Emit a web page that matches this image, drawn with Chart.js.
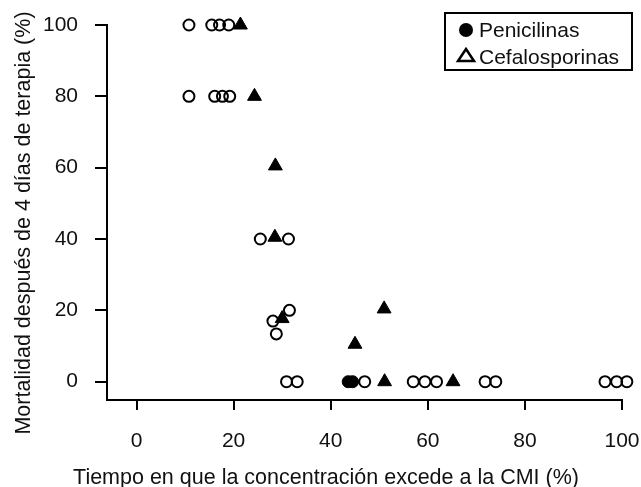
<!DOCTYPE html>
<html>
<head>
<meta charset="utf-8">
<script src="https://cdn.jsdelivr.net/npm/chart.js@4/dist/chart.umd.min.js"></script>
<style>
  html, body { margin: 0; padding: 0; background: #fff; overflow: hidden; }
  #wrap { width: 641px; height: 487px; }
  canvas { display: block; }
</style>
</head>
<body>
<div id="wrap"><canvas id="chart"></canvas></div>
<script>
// Tick labels
const xTicks = [0, 20, 40, 60, 80, 100];
const yTicks = [0, 20, 40, 60, 80, 100];

// Open circles (x = % time above MIC, y = mortality %)
const openX = [10.8, 15.5, 17.1, 19.0, 10.8, 16.1, 17.7, 19.2, 25.5, 31.3, 31.5, 28.1, 28.8,
               30.9, 33.1, 47.0, 57.0, 59.4, 61.8, 71.8, 74.0, 96.5, 98.9, 101.0];
const openY = [100, 100, 100, 100, 80, 80, 80, 80, 40, 40, 20, 17, 13.4,
               0, 0, 0, 0, 0, 0, 0, 0, 0, 0, 0];

// Filled triangles
const triX = [21.4, 24.3, 28.6, 28.5, 30.0, 45.0, 51.0, 51.1, 65.2];
const triY = [100, 80, 60.5, 40.5, 17.7, 10.5, 20.4, 0, 0];

// Filled circles
const dotX = [43.6, 44.5];
const dotY = [0, 0];

const legendNames = ["Penicilinas", "Cefalosporinas"];
const xTitle = "Tiempo en que la concentración excede a la CMI (%)";
const yTitle = "Mortalidad después de 4 días de terapia (%)";

const pts = (xs, ys) => xs.map((x, i) => ({ x: x, y: ys[i] }));
const fixTicks = (vals) => (scale) => { scale.ticks = vals.map(v => ({ value: v })); };

const FONT = "'Liberation Sans', Arial, sans-serif";
Chart.defaults.font.family = FONT;
Chart.defaults.font.size = 21;
Chart.defaults.color = "#111";

// legend box and axis titles, placed like the original figure
const decor = {
    id: "decor",
    afterDraw(chart) {
        const ctx = chart.ctx;
        ctx.save();
        ctx.strokeStyle = "#000";
        ctx.lineWidth = 2;
        ctx.strokeRect(445, 13, 187, 57);
        // filled circle
        ctx.fillStyle = "#000";
        ctx.beginPath();
        ctx.arc(466, 30, 7, 0, Math.PI * 2);
        ctx.fill();
        // open triangle
        ctx.lineWidth = 2.5;
        ctx.beginPath();
        ctx.moveTo(466, 49);
        ctx.lineTo(474, 61);
        ctx.lineTo(458, 61);
        ctx.closePath();
        ctx.stroke();
        ctx.font = "21px " + FONT;
        ctx.fillStyle = "#111";
        ctx.textBaseline = "alphabetic";
        ctx.textAlign = "left";
        ctx.fillText(legendNames[0], 479, 37);
        ctx.fillText(legendNames[1], 479, 64);

        // axis titles
        ctx.font = "21.5px " + FONT;
        ctx.textAlign = "center";
        ctx.fillText(xTitle, 326, 484);
        ctx.translate(30, 223);
        ctx.rotate(-Math.PI / 2);
        ctx.fillText(yTitle, 0, 0);
        ctx.restore();
    }
};

new Chart(document.getElementById("chart"), {
    type: "scatter",
    data: {
        datasets: [{
            label: legendNames[0],
            data: pts(openX, openY),
            pointStyle: "circle",
            pointRadius: 5.5,
            backgroundColor: "rgba(0,0,0,0)",
            borderColor: "#000",
            borderWidth: 2,
            clip: false
        }, {
            label: legendNames[1],
            data: pts(triX, triY),
            pointStyle: "triangle",
            pointRadius: 8,
            backgroundColor: "#000",
            borderColor: "#000",
            borderWidth: 1,
            clip: false
        }, {
            label: "",
            data: pts(dotX, dotY),
            pointStyle: "circle",
            pointRadius: 6,
            backgroundColor: "#000",
            borderColor: "#000",
            borderWidth: 1,
            clip: false
        }]
    },
    options: {
        responsive: true,
        maintainAspectRatio: false,
        animation: false,
        layout: { padding: { top: 25, right: 19, left: 0, bottom: 0 } },
        plugins: {
            legend: { display: false },
            tooltip: { enabled: false }
        },
        scales: {
            x: {
                type: "linear",
                min: -6.08,
                max: 100,
                afterBuildTicks: fixTicks(xTicks),
                afterFit: (s) => { s.height = 87; s.paddingLeft = 0; s.paddingRight = 0; },
                grid: { drawOnChartArea: false, color: "#000", lineWidth: 2, tickLength: 10 },
                border: { color: "#000", width: 2 },
                ticks: { padding: 19, maxRotation: 0 }
            },
            y: {
                type: "linear",
                min: -5.13,
                max: 100,
                afterBuildTicks: fixTicks(yTicks),
                afterFit: (s) => { s.width = 107; s.paddingTop = 0; s.paddingBottom = 0; },
                grid: { drawOnChartArea: false, color: "#000", lineWidth: 2, tickLength: 12 },
                border: { color: "#000", width: 2 },
                ticks: { padding: 17 }
            }
        }
    },
    plugins: [decor]
});
</script>
</body>
</html>
